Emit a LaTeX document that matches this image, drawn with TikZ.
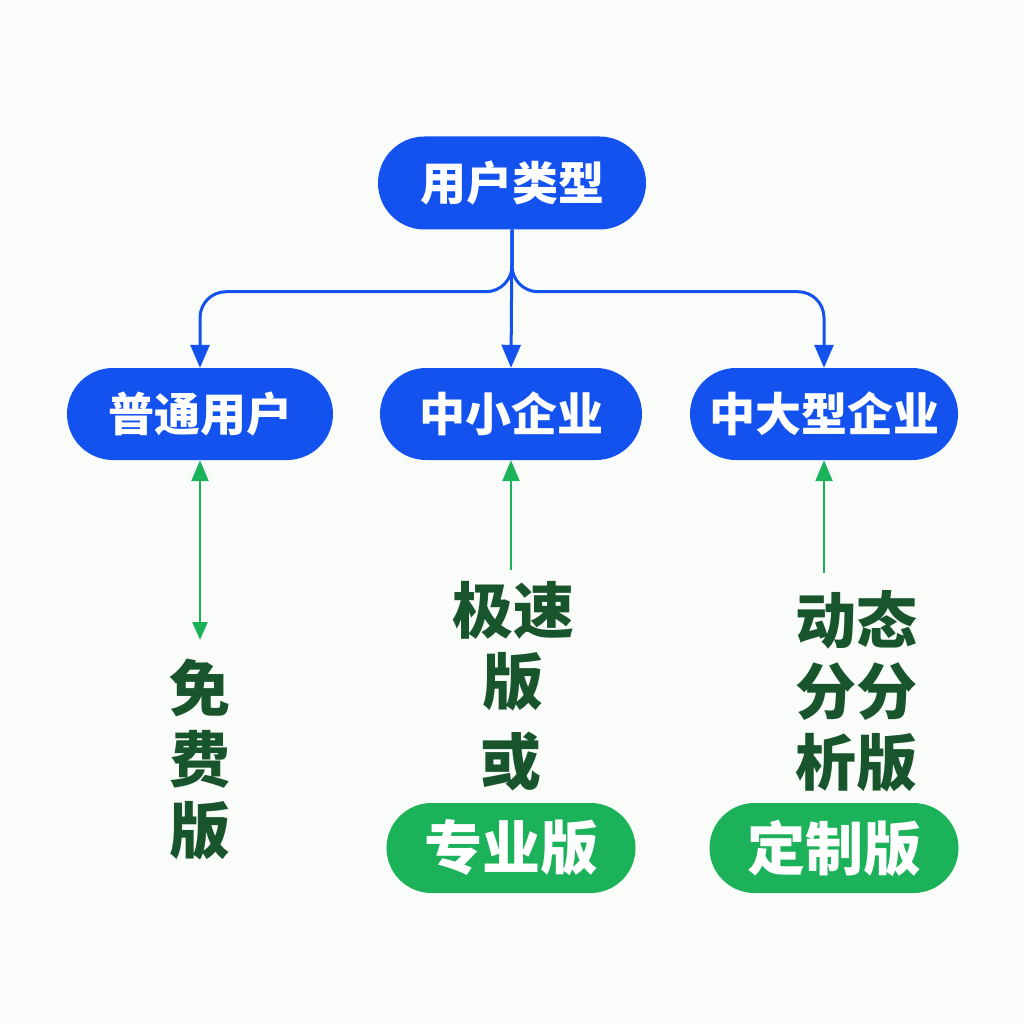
\documentclass[tikz,border=0pt]{standalone}
\usepackage{fontspec}
\newfontfamily\cjk{Noto Sans CJK SC}
\usetikzlibrary{arrows.meta,shapes.misc}
\definecolor{bluebox}{RGB}{20,82,240}
\definecolor{greenbox}{RGB}{28,178,90}
\definecolor{darkgreen}{RGB}{24,84,44}
\definecolor{bgcol}{RGB}{250,252,250}
\begin{document}
\begin{tikzpicture}[x=1pt,y=-1pt,
  bluenode/.style={rounded rectangle, fill=bluebox, text=white, minimum height=92pt, inner sep=0pt,
    font=\cjk\bfseries\fontsize{46}{50}\selectfont},
  greennode/.style={rounded rectangle, fill=greenbox, text=white, minimum height=90pt, minimum width=249pt, inner sep=0pt,
    font=\cjk\bfseries\fontsize{58}{60}\selectfont},
  labeltext/.style={text=darkgreen, align=center, inner sep=0pt,
    font=\cjk\bfseries\fontsize{61}{71}\selectfont},
  bluearrow/.style={draw=bluebox, line width=3pt, -{Triangle[length=23pt,width=19pt]}},
  greenarrow/.style={draw=greenbox, line width=2.5pt}
]
\fill[bgcol] (0,0) rectangle (1024,1024);
\useasboundingbox (0,0) rectangle (1024,1024);

\node[bluenode, minimum width=268pt, minimum height=93pt] (t) at (512,183) {用户类型};
\node[bluenode, minimum width=266pt] (a) at (200,414) {普通用户};
\node[bluenode, minimum width=262pt] (b) at (511,414) {中小企业};
\node[bluenode, minimum width=268pt] (c) at (824,414) {中大型企业};

\draw[bluearrow, rounded corners=26pt] (t.south) -- ([yshift=-62pt]t.south) -| (a.north);
\draw[bluearrow] (t.south) -- (b.north);
\draw[bluearrow, rounded corners=26pt] (t.south) -- ([yshift=-62pt]t.south) -| (c.north);

\coordinate (ae) at (200,640);
\coordinate (be) at (511,570);
\coordinate (ce) at (824,573);
\draw[greenarrow, {Triangle[length=21pt,width=17pt]}-{Triangle[length=18pt,width=15pt]}] (a.south) -- (ae);
\draw[greenarrow, -{Triangle[length=21pt,width=17pt]}] (be) -- (b.south);
\draw[greenarrow, -{Triangle[length=21pt,width=17pt]}] (ce) -- (c.south);

\node[labeltext] (l1) at (200,760) {免\\费\\版};
\node[labeltext] (l2) at (513,646) {极速\\版};
\node[labeltext] (l3) at (511,762) {或};
\node[labeltext] (l4) at (856,691) {动态\\分分\\析版};

\node[greennode] (g1) at (511,848) {专业版};
\node[greennode] (g2) at (834,848) {定制版};
\end{tikzpicture}
\end{document}
